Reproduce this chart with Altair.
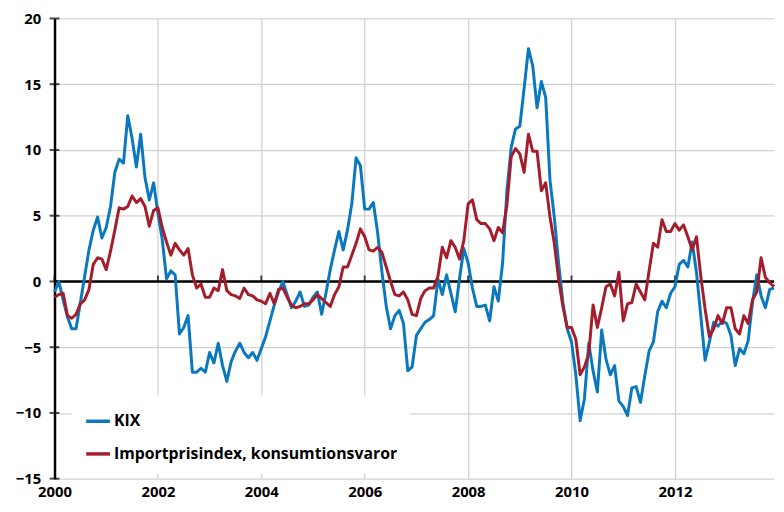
import altair as alt
import pandas as pd

kix = [
    -0.8, 0.0, -1.4, -2.7, -3.6, -3.6, -1.6, 0.4, 2.4, 3.9, 4.9, 3.3,
    4.1, 5.7, 8.3, 9.3, 9.0, 12.6, 10.9, 8.7, 11.2, 7.9, 6.2, 7.5,
    5.2, 3.2, 0.2, 0.8, 0.5, -4.0, -3.5, -2.6, -6.9, -6.9, -6.6, -6.9,
    -5.4, -6.2, -4.7, -6.4, -7.6, -6.1, -5.3, -4.7, -5.4, -5.8, -5.4, -6.0,
    -5.1, -4.2, -3.0, -1.8, -0.8, 0.0, -1.0, -2.0, -1.5, -0.8, -1.9, -1.8,
    -1.2, -0.8, -2.5, -0.9, 0.9, 2.4, 3.8, 2.4, 3.9, 5.9, 9.4, 8.8,
    5.5, 5.5, 6.0, 3.7, 0.7, -1.9, -3.6, -2.6, -2.2, -3.2, -6.8, -6.5,
    -4.1, -3.6, -3.1, -2.9, -2.6, 0.2, -1.0, 0.5, -0.9, -2.3, 0.2, 2.5,
    1.4, -0.5, -1.9, -1.9, -1.8, -3.0, -0.4, -1.5, 1.4, 6.9, 10.2, 11.6,
    11.8, 14.7, 17.7, 16.4, 13.2, 15.2, 14.0, 7.7, 4.9, 1.4, -1.6, -3.6,
    -4.6, -7.1, -10.6, -8.9, -4.7, -6.8, -8.4, -3.7, -5.9, -7.1, -6.4, -9.1,
    -9.5, -10.2, -8.1, -8.0, -9.2, -7.2, -5.3, -4.6, -2.3, -1.5, -2.0, -0.9,
    -0.4, 1.3, 1.6, 1.1, 3.0, 0.7, -2.6, -6.0, -4.6, -3.1, -3.4, -3.0,
    -3.2, -4.1, -6.4, -5.1, -5.5, -4.5, -1.6, 0.5, -1.1, -2.0, -0.6, -0.5,
]

importpris = [
    -1.2, -1.0, -0.9, -2.6, -2.8, -2.5, -1.7, -1.4, -0.6, 1.3, 1.8, 1.7,
    0.9, 2.3, 3.9, 5.6, 5.5, 5.7, 6.5, 6.0, 6.3, 5.7, 4.2, 5.4,
    5.6, 4.1, 3.0, 2.0, 2.9, 2.4, 2.0, 2.5, 0.5, -0.5, -0.2, -1.2,
    -1.2, -0.5, -0.7, 0.9, -0.7, -1.0, -1.1, -1.3, -0.5, -1.0, -1.1, -1.4,
    -1.5, -1.7, -0.9, -1.7, -0.6, -0.5, -1.2, -1.8, -2.0, -1.9, -1.7, -1.7,
    -1.4, -1.0, -1.3, -1.6, -1.9, -1.0, -0.4, 1.1, 1.1, 2.0, 2.9, 4.0,
    3.4, 2.4, 2.3, 2.6, 2.2, 1.1, 0.0, -1.0, -1.1, -0.8, -1.4, -2.5,
    -2.6, -1.3, -0.7, -0.5, -0.5, 0.4, 2.6, 1.8, 3.1, 2.6, 1.7, 3.1,
    5.9, 6.2, 4.7, 4.4, 4.4, 4.0, 3.1, 4.1, 3.7, 5.8, 9.5, 10.1,
    9.7, 8.3, 11.2, 9.9, 9.9, 6.9, 7.5, 4.9, 2.9, 0.2, -1.9, -3.5,
    -3.5, -4.4, -7.1, -6.5, -5.5, -1.8, -3.5, -2.0, -0.4, -0.2, -1.1, 0.7,
    -3.0, -1.7, -1.6, -0.2, -0.8, -1.4, 0.8, 2.9, 2.6, 4.7, 3.8, 3.8,
    4.4, 3.9, 4.3, 3.4, 2.4, 3.4, 0.4, -2.1, -4.2, -3.6, -2.6, -3.2,
    -2.0, -2.0, -3.6, -4.0, -2.6, -3.2, -1.4, -0.8, 1.8, 0.3, -0.1, -0.4,
]

series_names = ["KIX", "Importprisindex, konsumtionsvaror"]
series_colors = ["#0a78be", "#a51d2a"]
y_ticks = [-15, -10, -5, 0, 5, 10, 15, 20]
x_tick_years = [2000, 2002, 2004, 2006, 2008, 2010, 2012]
start_year = 2000

n = len(kix)
t = [start_year + i / 12 for i in range(n)]
df = pd.concat([
    pd.DataFrame({"t": t, "value": kix, "series": series_names[0]}),
    pd.DataFrame({"t": t, "value": importpris, "series": series_names[1]}),
])

FONT = "Open Sans"

x_scale = alt.Scale(domain=[start_year, t[-1]], nice=False, zero=False)
y_scale = alt.Scale(domain=[-15, 20], nice=False)

x_axis = alt.Axis(values=x_tick_years, format="d", title=None, domain=False, ticks=False,
                  labelFontSize=15, labelFontWeight="bold", labelFont=FONT,
                  labelColor="black", labelPadding=6, labelFlush=False,
                  grid=True, gridColor="#d2d2d2", gridWidth=1.3)
y_axis = alt.Axis(values=y_ticks, title=None, domain=True, domainColor="black",
                  domainWidth=2.5, ticks=False, labelFontSize=15,
                  labelFontWeight="bold", labelFont=FONT, labelColor="black",
                  labelPadding=14,
                  grid=True, gridColor="#d2d2d2", gridWidth=1.3)

X = alt.X("t:Q", scale=x_scale, axis=x_axis)
Y = alt.Y("value:Q", scale=y_scale, axis=y_axis)

lines = alt.Chart(df).mark_line(strokeWidth=3, strokeJoin="round").encode(
    x=X,
    y=Y,
    color=alt.Color("series:N",
                    scale=alt.Scale(domain=series_names, range=series_colors),
                    legend=alt.Legend(title=None, orient="none", legendX=18, legendY=381,
                                      fillColor="white", padding=12,
                                      symbolType="stroke", symbolSize=576,
                                      symbolStrokeWidth=3.5, labelFontSize=16,
                                      labelFontWeight="bold", labelFont=FONT,
                                      labelColor="black", labelLimit=500,
                                      rowPadding=11, labelOffset=2)),
)

zero = alt.Chart(pd.DataFrame({"value": [0]})).mark_rule(color="black", strokeWidth=2.5).encode(
    y=Y
)

xt = alt.Chart(pd.DataFrame({"t": x_tick_years, "value": [0] * len(x_tick_years)})).mark_tick(
    color="black", thickness=2, size=6, orient="vertical", yOffset=-3
).encode(x=X, y=Y)

yt = alt.Chart(pd.DataFrame({"value": y_ticks})).mark_tick(
    color="black", thickness=2, size=10, orient="horizontal"
).encode(y=Y, x=alt.value(0))

chart = alt.layer(zero, xt, yt, lines).properties(
    width=727, height=465,
    padding={"left": 47, "top": 8, "right": 2, "bottom": 22},
    autosize=alt.AutoSizeParams(type="none"),
).configure_view(stroke=None)

chart.save("out.html", embed_options={"renderer": "svg", "actions": False})
